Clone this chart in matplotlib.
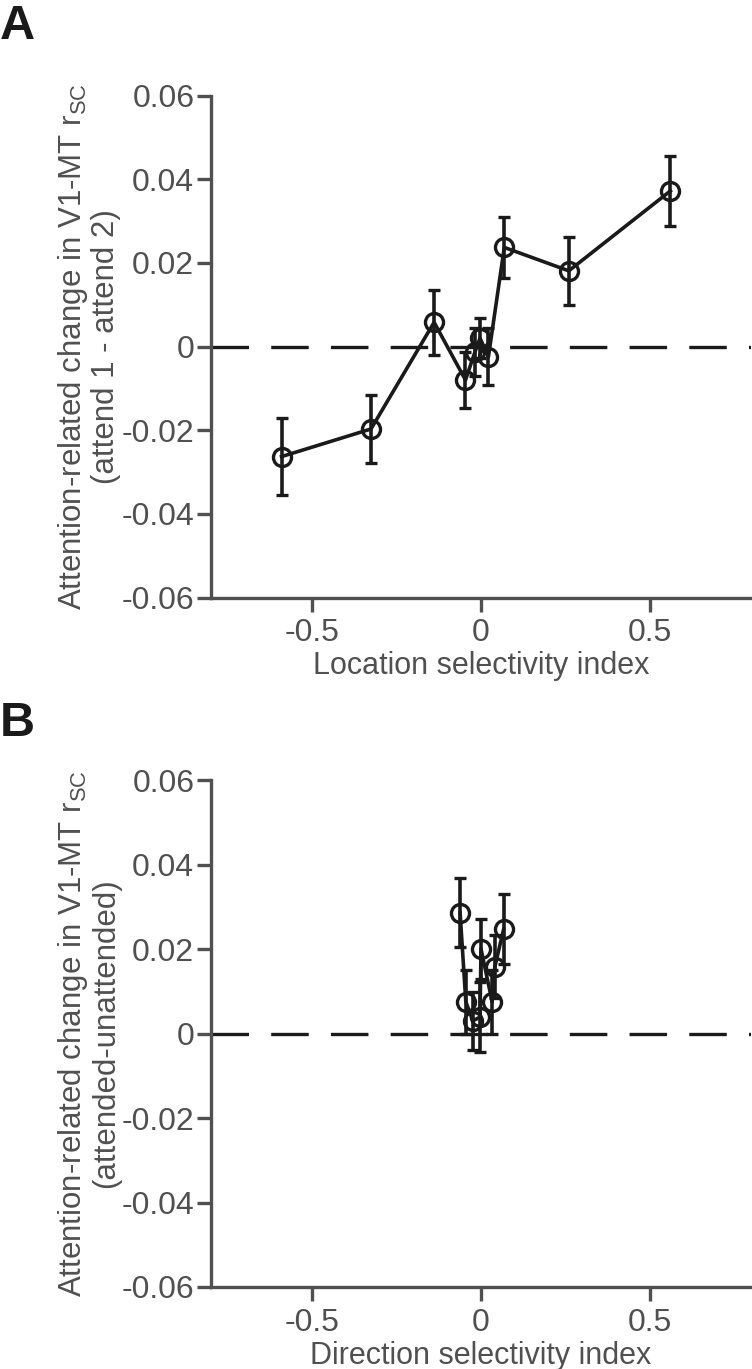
import matplotlib
matplotlib.use("Agg")
import matplotlib.pyplot as plt

# panel A: location selectivity
loc_x = [-0.591, -0.326, -0.139, -0.046, -0.018, -0.003, 0.022, 0.069, 0.260, 0.561]
loc_y = [-0.0263, -0.0197, 0.0058, -0.0080, -0.0013, 0.0020, -0.0024, 0.0237, 0.0181, 0.0372]
loc_err = [0.0093, 0.0081, 0.0078, 0.0068, 0.0057, 0.0048, 0.0068, 0.0072, 0.0081, 0.0083]

# panel B: direction selectivity
dir_x = [-0.062, -0.045, -0.024, -0.003, 0.0, 0.033, 0.041, 0.067]
dir_y = [0.0286, 0.0075, 0.0030, 0.0039, 0.0200, 0.0075, 0.0158, 0.0247]
dir_err = [0.0081, 0.0075, 0.0069, 0.0082, 0.0072, 0.0075, 0.0075, 0.0083]

yticks = [-0.06, -0.04, -0.02, 0, 0.02, 0.04, 0.06]
ytick_labels = ["-0.06", "-0.04", "-0.02", "0", "0.02", "0.04", "0.06"]
xticks = [-0.5, 0, 0.5]
xtick_labels = ["-0.5", "0", "0.5"]

plt.rcParams['font.family'] = ['Liberation Sans', 'DejaVu Sans']
plt.rcParams['mathtext.default'] = 'regular'
plt.rcParams['lines.scale_dashes'] = False

gris = '#505050'
preto = '#1a1a1a'

fig = plt.figure(figsize=(7.52, 13.69), dpi=100)
axA = fig.add_axes([0.2806, 0.5635, 0.7181, 0.3667])
axB = fig.add_axes([0.2806, 0.0599, 0.7181, 0.3703])


def desenha(ax, x, y, err, xlabel, ylabel2):
    ax.axhline(0, color=preto, lw=2.4, dashes=(27, 16), zorder=1)
    ax.errorbar(x, y, yerr=err, color=preto, lw=2.6, elinewidth=2.6,
                capsize=4.5, capthick=2.6, marker='o', ms=13,
                mfc='none', mec=preto, mew=2.4, zorder=3, clip_on=False)
    ax.set_xlim(-0.8, 0.8)
    ax.set_ylim(-0.06, 0.06)
    ax.set_xticks(xticks)
    ax.set_xticklabels(xtick_labels)
    ax.set_yticks(yticks)
    ax.set_yticklabels(ytick_labels)
    for s in ['top', 'right']:
        ax.spines[s].set_visible(False)
    for s in ['left', 'bottom']:
        ax.spines[s].set_color(gris)
        ax.spines[s].set_linewidth(2.4)
    ax.tick_params(direction='out', length=10, width=2.4, color=gris,
                   labelcolor=gris, labelsize=23)
    ax.tick_params(axis='y', pad=2)
    ax.tick_params(axis='x', pad=5)
    ax.set_xlabel(xlabel, fontsize=22, color=gris, labelpad=2)
    ax.set_ylabel("Attention-related change in V1-MT r$_{SC}$\n" + ylabel2,
                  fontsize=22.5, color=gris, linespacing=1.05)
    ax.yaxis.set_label_coords(-0.166, 0.5)


desenha(axA, loc_x, loc_y, loc_err, "Location selectivity index", "(attend 1 - attend 2)")
desenha(axB, dir_x, dir_y, dir_err, "Direction selectivity index", "(attended-unattended)")

fig.text(0.0, 0.997, "A", fontsize=35, fontweight='bold', color=preto, va='top', ha='left')
fig.text(0.0, 0.488, "B", fontsize=35, fontweight='bold', color=preto, va='top', ha='left')

fig.savefig("out.png", dpi=100)
